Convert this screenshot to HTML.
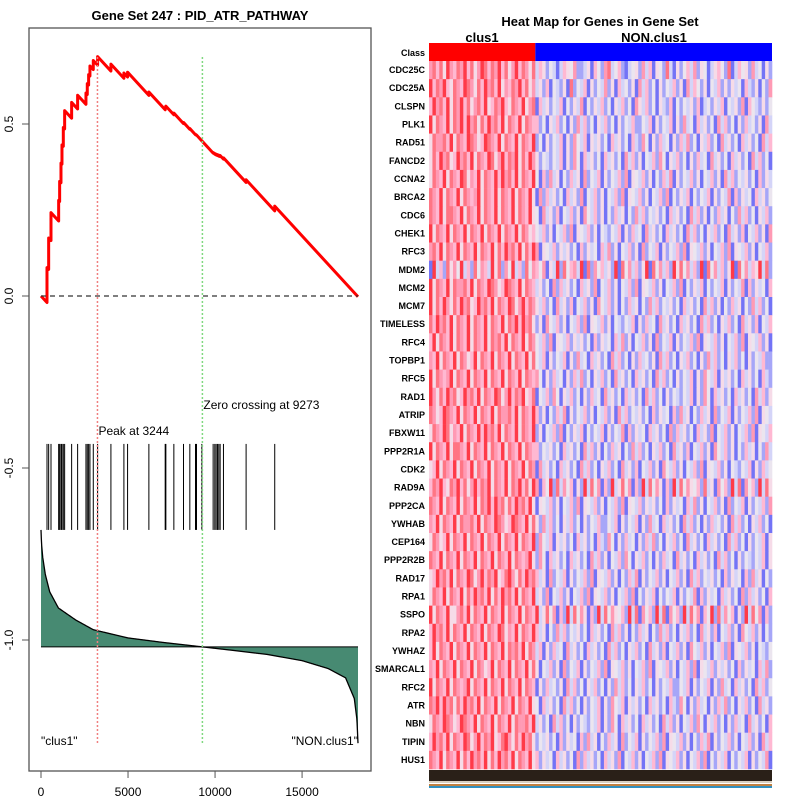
<!DOCTYPE html>
<html><head><meta charset="utf-8"><style>
body{margin:0;background:#fff;font-family:"Liberation Sans",sans-serif}
svg text{font-family:"Liberation Sans",sans-serif}
</style></head><body>
<svg id="c" width="800" height="800" xmlns="http://www.w3.org/2000/svg"></svg>
<script>
// ---- data ----
const N = 18213;
const peakRank = 3244;
const zeroCross = 9273;
const hitRanks = [344,440,574,1014,1071,1148,1205,1282,1358,1760,2104,2583,2659,2736,2812,3004,3252,4017,4763,4974,6198,7135,7174,7633,8188,8551,8876,8934,9240,9890,9986,10062,10139,10215,10292,10483,11784,13429];
const metricRanks = [0,30,100,250,500,1000,2000,3000,5000,7000,9273,11000,13000,15000,16500,17500,18000,18150,18213];
const metricVals = [0.34,0.30,0.26,0.21,0.16,0.113,0.078,0.05,0.026,0.013,0,-0.01,-0.022,-0.04,-0.063,-0.09,-0.15,-0.21,-0.28];
const xTicks = [0,5000,10000,15000];
const yTicks = [0.5,0.0,-0.5,-1.0];
const yTickLabels = ["0.5","0.0","-0.5","-1.0"];
const genes = ["CDC25C","CDC25A","CLSPN","PLK1","RAD51","FANCD2","CCNA2","BRCA2","CDC6","CHEK1","RFC3","MDM2","MCM2","MCM7","TIMELESS","RFC4","TOPBP1","RFC5","RAD1","ATRIP","FBXW11","PPP2R1A","CDK2","RAD9A","PPP2CA","YWHAB","CEP164","PPP2R2B","RAD17","RPA1","SSPO","RPA2","YWHAZ","SMARCAL1","RFC2","ATR","NBN","TIPIN","HUS1"];
const nClus1 = 31;
const heat = [
"7868597687968579868796857968758365243136547223516427834621345273615428315246372541356428136452734152",
"8796857968796587698758697869576253416325142735261432518243615243725163425173624152436251736425143625",
"5687965876957869786958796857869435261342536143527164325241635243614253714253624153624175362415326142",
"6978586978695876958769587695879243615243615273416352417362415263425173624153624152736241536241524362",
"7869587698756987695876958769587352416352416327415263415263724153624173524163524173624152436152743615",
"8697586978569786958769857968795243615274163524163524173625143627415362415263417352416352417362415243",
"6978695876958769587698576958769352416253416273514263517243615243627154362514263715243625143625173624",
"7958769587695876958769587695876243615243716253416352417263524163527143625143627154362514362714253614",
"8769587695876958769587695876958352416352417362514263514273624153624173526143625174362514263514273624",
"6958769587695876958769587695875243615263417352416352417362415362417352614362517436251436271543625143",
"7869586978695876958769587695869352416253416372514362517243615243627154362514362715436251436271543625",
"6395827493628471936285749362847593826471539284673918274635291847362591847362958473629184736259184736",
"7869587698756987695876958769587243615243716253416352417263524163527143625143627154362514362714253614",
"8697586978569786958769857968795352416352417362514263514273624153624173526143625174362514263514273624",
"6978586978695876958769587695879243615263417352416352417362415362417352614362517436251436271543625143",
"7869587695876958769587695876958352416253416372514362517243615243627154362514362715436251436271543625",
"6958769587695876958769587695875243615243615273416352417362415263425173624153624152736241536241524362",
"7958769587695876958769587695876352416352416327415263415263724153624173524163524173624152436152743615",
"6897586978569786958769857968795243615274163524163524173625143627415362415263417352416352417362415243",
"7869587698756987695876958769587352416253416273514263517243615243627154362514263715243625143625173624",
"6978695876958769587698576958769243615243716253416352417263524163527143625143627154362514362714253614",
"8769587695876958769587695876958352416352417362514263514273624153624173526143625174362514263514273624",
"6958769587695876958769587695875243615263417352416352417362415362417352614362517436251436271543625143",
"7968596879658796857968795876958462835174629381746293857164928374615293847162935847162938475162938475",
"6978586978695876958769587695879352416253416372514362517243615243627154362514362715436251436271543625",
"7869587698756987695876958769587243615243615273416352417362415263425173624153624152736241536241524362",
"6958769587695876958769587695875352416352416327415263415263724153624173524163524173624152436152743615",
"7958769587695876958769587695876243615274163524163524173625143627415362415263417352416352417362415243",
"6897586978569786958769857968795352416253416273514263517243615243627154362514263715243625143625173624",
"7869586978695876958769587695869243615243716253416352417263524163527143625143627154362514362714253614",
"5786958769587695876958769587695462938174629381746293857164928374615293847162935847162938475162938475",
"6978695876958769587698576958769352416352417362514263514273624153624173526143625174362514263514273624",
"7869587695876958769587695876958243615263417352416352417362415362417352614362517436251436271543625143",
"6958769587695876958769587695875352416253416372514362517243615243627154362514362715436251436271543625",
"7958769587695876958769587695876243615243615273416352417362415263425173624153624152736241536241524362",
"6978586978695876958769587695879352416352416327415263415263724153624173524163524173624152436152743615",
"7869587698756987695876958769587243615274163524163524173625143627415362415263417352416352417362415243",
"6897586978569786958769857968795352416253416273514263517243615243627154362514263715243625143625173624",
"7869586978695876958769587695869243615243716253416352417263524163527143625143627154362514362714253614"
];
const palette = ["#0000ff","#7373f6","#a6a6f8","#d4d4f8","#ebe5ef","#f6dbe8","#ffb8d2","#ff9ab4","#ff7584","#ff3a48"];

// ---- helpers ----
const svg = document.getElementById('c');
const NS = "http://www.w3.org/2000/svg";
function mk(tag, attrs, parent){const e=document.createElementNS(NS,tag);for(const k in attrs)e.setAttribute(k,attrs[k]);(parent||svg).appendChild(e);return e;}
const X0=41, XS=(358-41)/N;
const xs = r => X0 + r*XS;
const ys = v => 296 - v*344;
function metricAt(r){
  for(let i=1;i<metricRanks.length;i++){
    if(r<=metricRanks[i]){const a=metricRanks[i-1],b=metricRanks[i];const t=(r-a)/(b-a);return metricVals[i-1]+t*(metricVals[i]-metricVals[i-1]);}
  }
  return metricVals[metricVals.length-1];
}
const BASE = -1.02;

// ---- left panel ----
let t = mk('text',{x:200,y:20,'font-size':13,'font-weight':'bold','text-anchor':'middle'});
t.textContent = "Gene Set  247 : PID_ATR_PATHWAY";



let pts = [];
for(let r=0;r<=N;r+=20) pts.push(xs(r).toFixed(2)+","+ys(BASE+metricAt(r)).toFixed(2));
pts.push(xs(N).toFixed(2)+","+ys(BASE+metricAt(N)).toFixed(2));
let area = mk('polygon',{points:xs(0)+","+ys(BASE)+" "+pts.join(" ")+" "+xs(N)+","+ys(BASE),fill:'#478a72',stroke:'none'});


let ml = mk('polyline',{points:pts.join(" "),fill:'none',stroke:'#000','stroke-width':1.3});


let bl = mk('line',{x1:xs(0),x2:xs(N),y1:ys(BASE),y2:ys(BASE),stroke:'#000','stroke-width':1});



hitRanks.forEach(r=>{
  const l = mk('line',{x1:xs(r),x2:xs(r),y1:ys(-0.43),y2:ys(-0.68),stroke:'#000','stroke-width':1});
  
  
});

let hitW = hitRanks.map(r=>Math.abs(metricAt(r)));
let sumW = hitW.reduce((a,b)=>a+b,0);
let miss = 1/(N-hitRanks.length);
let es=[[0,0]], cur=0, prev=0;
hitRanks.forEach((r,i)=>{
  cur -= (r-prev)*miss; es.push([r,cur]);
  cur += hitW[i]/sumW; es.push([r,cur]); prev=r;
});
cur -= (N-prev)*miss; es.push([N,cur]);
let esl = mk('polyline',{points:es.map(p=>xs(p[0]).toFixed(2)+","+ys(p[1]).toFixed(2)).join(" "),fill:'none',stroke:'#ff0000','stroke-width':3,'stroke-linejoin':'round'});



let zl = mk('line',{x1:xs(0),x2:xs(N),y1:ys(0),y2:ys(0),stroke:'#333','stroke-width':1.2,'stroke-dasharray':'5,4'});


let pl = mk('line',{x1:xs(peakRank),x2:xs(peakRank),y1:57,y2:745,stroke:'#f08080','stroke-width':1.5,'stroke-dasharray':'2,2'});


let gl = mk('line',{x1:xs(zeroCross),x2:xs(zeroCross),y1:57,y2:745,stroke:'#80d880','stroke-width':1.5,'stroke-dasharray':'2,2'});



t = mk('text',{x:xs(peakRank)+1,y:435,'font-size':12}); t.textContent="Peak at "+peakRank;


t = mk('text',{x:xs(zeroCross)+1,y:409,'font-size':12}); t.textContent="Zero crossing at "+zeroCross;


t = mk('text',{x:41,y:745,'font-size':12}); t.textContent='"clus1"';


t = mk('text',{x:358,y:745,'font-size':12,'text-anchor':'end'}); t.textContent='"NON.clus1"';



let box = mk('rect',{x:29,y:28,width:342,height:743,fill:'none',stroke:'#555','stroke-width':1.3});



xTicks.forEach(v=>{
  const l=mk('line',{x1:xs(v),x2:xs(v),y1:771,y2:778,stroke:'#555'});
  
  
  const tx=mk('text',{x:xs(v),y:796,'font-size':12,'text-anchor':'middle'}); tx.textContent=v;
  
  
});
yTicks.forEach((v,i)=>{
  const y=ys(v);
  const l=mk('line',{x1:22,x2:29,y1:y,y2:y,stroke:'#555'});
  
  
  const tx=mk('text',{x:13,y:y,'font-size':12,'text-anchor':'middle',transform:`rotate(-90 13 ${y})`}); tx.textContent=yTickLabels[i];
  
  
});

// ---- heatmap ----
const HX=429, HW=343, HY=61, RH=(769-61)/genes.length;
t = mk('text',{x:600,y:26,'font-size':13,'font-weight':'bold','text-anchor':'middle'}); t.textContent="Heat Map for Genes in Gene Set";


t = mk('text',{x:482,y:42,'font-size':13,'font-weight':'bold','text-anchor':'middle'}); t.textContent="clus1";


t = mk('text',{x:654,y:42,'font-size':13,'font-weight':'bold','text-anchor':'middle'}); t.textContent="NON.clus1";


const totalCols = heat[0].length;
let cr = mk('rect',{x:HX,y:43,width:HW*nClus1/totalCols,height:18,fill:'#ff0000'});


cr = mk('rect',{x:HX+HW*nClus1/totalCols,y:43,width:HW-HW*nClus1/totalCols,height:18,fill:'#0000ff'});


t = mk('text',{x:425,y:56,'font-size':9,'font-weight':'bold','text-anchor':'end'}); t.textContent="Class";



function rot(s,k){k=k%s.length;return s.slice(k)+s.slice(0,k);}
genes.forEach((g,i)=>{
  const raw = heat[i % heat.length];
  const row = rot(raw.slice(0,nClus1),(i*7)%nClus1) + rot(raw.slice(nClus1),(i*13)%(raw.length-nClus1));
  const cw = HW/row.length;
  const y = HY + i*RH;
  for(let j=0;j<row.length;j++){
    const c = mk('rect',{x:(HX+j*cw).toFixed(2),y:y.toFixed(2),width:(cw+0.3).toFixed(2),height:(RH+0.3).toFixed(2),fill:palette[+row[j]]});
    
    
  }
  const lt = mk('text',{x:425,y:y+RH/2+3,'font-size':9,'font-weight':'bold','text-anchor':'end'}); lt.textContent=g;
  
  
});
let s1 = mk('rect',{x:HX,y:770,width:HW,height:11,fill:'#2a2018'});


[['#d8cfc0',781],['#c08040',784],['#3090c0',786]].forEach(a=>{
  const r=mk('rect',{x:HX,y:a[1],width:HW,height:2,fill:a[0]});
  
  
});
</script>
</body></html>
